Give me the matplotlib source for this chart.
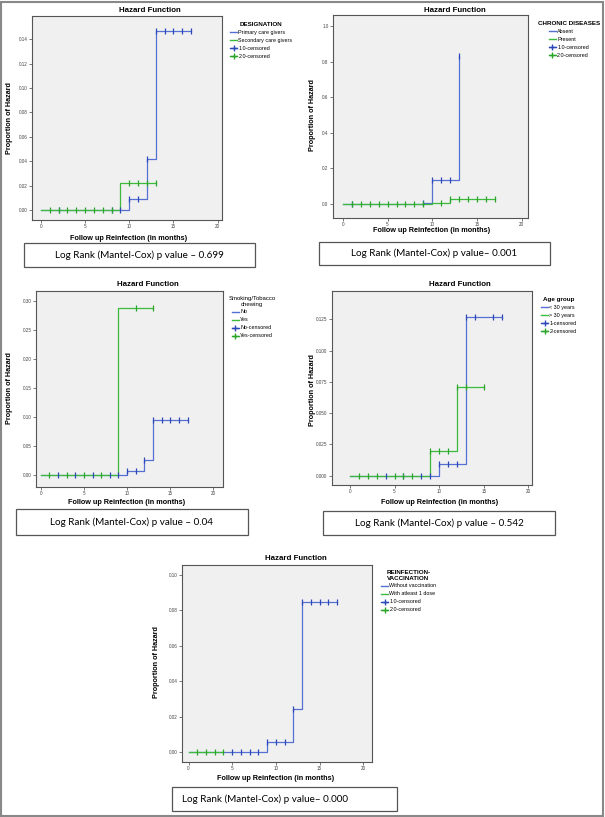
import numpy as np
import matplotlib
matplotlib.use('Agg')
import matplotlib.pyplot as plt
import matplotlib.patches as patches
from matplotlib.lines import Line2D

W, H = 605, 817

# ---- data (months, cumulative hazard) ----
x_ticks = [0, 5, 10, 15, 20]

# panel 1: designation
p1_blue_t = [0, 10, 12, 13, 17]
p1_blue_h = [0, 0.009, 0.042, 0.147, 0.147]
p1_blue_cens = [2, 8, 9, 10, 11, 12, 13, 14, 15, 16, 17]
p1_green_t = [0, 9, 13]
p1_green_h = [0, 0.022, 0.022]
p1_green_cens = [1, 2, 3, 4, 5, 6, 7, 8, 10, 11, 12, 13]
p1_yticks = [0.00, 0.02, 0.04, 0.06, 0.08, 0.10, 0.12, 0.14]
p1_ytick_labels = ['0.00', '0.02', '0.04', '0.06', '0.08', '0.10', '0.12', '0.14']
p1_legend = ['Primary care givers', 'Secondary care givers', '1.0-censored', '2.0-censored']

# panel 2: chronic diseases
p2_blue_t = [0, 9, 10, 13]
p2_blue_h = [0, 0.004, 0.133, 0.83]
p2_blue_cens = [1, 9, 10, 11, 12, 13]
p2_green_t = [0, 10, 12, 17]
p2_green_h = [0, 0.007, 0.027, 0.027]
p2_green_cens = [1, 2, 3, 4, 5, 6, 7, 8, 9, 11, 12, 13, 14, 15, 16, 17]
p2_yticks = [0.0, 0.2, 0.4, 0.6, 0.8, 1.0]
p2_ytick_labels = ['0.0', '0.2', '0.4', '0.6', '0.8', '1.0']
p2_legend = ['Absent', 'Present', '1.0-censored', '2.0-censored']

# panel 3: smoking
p3_blue_t = [0, 10, 12, 13, 17]
p3_blue_h = [0, 0.007, 0.027, 0.095, 0.095]
p3_blue_cens = [2, 4, 6, 8, 9, 10, 11, 12, 13, 14, 15, 16, 17]
p3_green_t = [0, 9, 13]
p3_green_h = [0, 0.288, 0.288]
p3_green_cens = [1, 3, 5, 7, 11, 13]
p3_yticks = [0.00, 0.05, 0.10, 0.15, 0.20, 0.25, 0.30]
p3_ytick_labels = ['0.00', '0.05', '0.10', '0.15', '0.20', '0.25', '0.30']
p3_legend = ['No', 'Yes', 'No-censored', 'Yes-censored']

# panel 4: age group
p4_blue_t = [0, 10, 13, 17]
p4_blue_h = [0, 0.009, 0.127, 0.127]
p4_blue_cens = [4, 6, 8, 9, 10, 11, 12, 13, 14, 16, 17]
p4_green_t = [0, 9, 12, 15]
p4_green_h = [0, 0.0195, 0.071, 0.071]
p4_green_cens = [1, 2, 3, 5, 6, 7, 9, 10, 11, 12, 13, 15]
p4_yticks = [0.000, 0.025, 0.050, 0.075, 0.100, 0.125]
p4_ytick_labels = ['0.000', '0.025', '0.050', '0.075', '0.100', '0.125']
p4_legend = ['< 30 years', '> 30 years', '1-censored', '2-censored']

# panel 5: vaccination
p5_blue_t = [0, 9, 12, 13, 17]
p5_blue_h = [0, 0.0057, 0.0245, 0.085, 0.085]
p5_blue_cens = [5, 6, 7, 8, 9, 10, 11, 12, 13, 14, 15, 16, 17]
p5_green_t = [0, 4]
p5_green_h = [0, 0]
p5_green_cens = [1, 2, 3, 4]
p5_yticks = [0.00, 0.02, 0.04, 0.06, 0.08, 0.10]
p5_ytick_labels = ['0.00', '0.02', '0.04', '0.06', '0.08', '0.10']
p5_legend = ['Without vaccination', 'With atleast 1 dose', '1.0-censored', '2.0-censored']

BLUE = '#5570d2'
BLUE_M = '#2d48b8'
GREEN = '#3cba3c'
GREEN_M = '#2aa52a'

fig = plt.figure(figsize=(W / 100, H / 100), dpi=100)
plt.rcParams['font.family'] = ['Liberation Sans', 'DejaVu Sans']


def px_axes(x0, y0, x1, y1):
    return fig.add_axes([x0 / W, 1 - y1 / H, (x1 - x0) / W, (y1 - y0) / H])


def step_at(t, h, c):
    idx = np.searchsorted(t, c, side='right') - 1
    return np.asarray(h)[idx]


def panel(box, xlim, ylim, yticks, ylabels,
          bt, bh, bc, gt, gh, gc,
          title_xy, xlab_xy, ylab_xy,
          leg_xy, leg_title, leg_labels, leg_bold,
          lr_box, lr_text, lr_left=False, title_center=False):
    ax = px_axes(*box)
    ax.set_facecolor('#f0f0f0')
    ax.step(bt, bh, where='post', color=BLUE, lw=0.9, zorder=2)
    ax.plot(bc, step_at(bt, bh, bc), ls='none', marker='|', ms=4, mew=0.9,
            color=BLUE_M, zorder=3)
    ax.step(gt, gh, where='post', color=GREEN, lw=0.9, zorder=2)
    ax.plot(gc, step_at(gt, gh, gc), ls='none', marker='|', ms=4, mew=0.9,
            color=GREEN_M, zorder=3)
    ax.set_xlim(*xlim)
    ax.set_ylim(*ylim)
    ax.set_xticks(x_ticks)
    ax.set_yticks(yticks)
    ax.set_yticklabels(ylabels)
    ax.tick_params(labelsize=3.3, length=2, width=0.5, colors='#444',
                   pad=1.2)
    for s in ax.spines.values():
        s.set_color('#555')
        s.set_linewidth(0.8)

    fig.text(title_xy[0] / W, 1 - title_xy[1] / H, 'Hazard Function',
             ha='center', va='center', fontsize=5.7, fontweight='bold')
    fig.text(xlab_xy[0] / W, 1 - xlab_xy[1] / H,
             'Follow up Reinfection (in months)',
             ha='center', va='center', fontsize=5.2, fontweight='bold')
    fig.text(ylab_xy[0] / W, 1 - ylab_xy[1] / H, 'Proportion of Hazard',
             ha='center', va='center', rotation=90, fontsize=5.2,
             fontweight='bold')

    handles = [Line2D([], [], color=BLUE, lw=1.0),
               Line2D([], [], color=GREEN, lw=1.0),
               Line2D([], [], color=BLUE_M, lw=1.0, marker='+', ms=4),
               Line2D([], [], color=GREEN_M, lw=1.0, marker='+', ms=4)]
    leg = ax.legend(handles, leg_labels, loc='upper left',
                    bbox_to_anchor=(leg_xy[0] / W, 1 - leg_xy[1] / H),
                    bbox_transform=fig.transFigure, frameon=False,
                    fontsize=3.9, title=leg_title, handlelength=1.4,
                    handletextpad=0.2, labelspacing=0.55, borderpad=0,
                    title_fontproperties={'size': 4.5 if leg_bold else 4.3,
                                          'weight': 'bold' if leg_bold else 'normal'})
    if title_center:
        leg.get_title().set_multialignment('center')

    x0, y0, x1, y1 = lr_box
    fig.patches.append(patches.Rectangle(
        (x0 / W, 1 - y1 / H), (x1 - x0) / W, (y1 - y0) / H,
        transform=fig.transFigure, fill=False, edgecolor='#555', lw=0.9))
    if lr_left:
        fig.text((x0 + 10) / W, 1 - (y0 + y1) / 2 / H, lr_text,
                 ha='left', va='center', fontsize=7.1, family='Lato')
    else:
        fig.text((x0 + x1) / 2 / W, 1 - (y0 + y1) / 2 / H, lr_text,
                 ha='center', va='center', fontsize=7.1, family='Lato')
    return ax


panel((32, 16, 222, 220), (-1.0, 20.5), (-0.0082, 0.159),
      p1_yticks, p1_ytick_labels,
      p1_blue_t, p1_blue_h, p1_blue_cens, p1_green_t, p1_green_h, p1_green_cens,
      (150, 10), (129, 239), (10, 118),
      (227, 19), 'DESIGNATION', p1_legend, True,
      (24, 243, 255, 267), 'Log Rank (Mantel-Cox) p value \u2013 0.699')

panel((333, 15, 528, 218), (-1.1, 20.7), (-0.079, 1.062),
      p2_yticks, p2_ytick_labels,
      p2_blue_t, p2_blue_h, p2_blue_cens, p2_green_t, p2_green_h, p2_green_cens,
      (455, 10), (432, 231), (313, 115),
      (535, 18), 'CHRONIC DISEASES', p2_legend, True,
      (319, 242, 550, 265), 'Log Rank (Mantel-Cox) p value\u2013 0.001')

panel((36, 291, 223, 487), (-0.55, 21.1), (-0.020, 0.317),
      p3_yticks, p3_ytick_labels,
      p3_blue_t, p3_blue_h, p3_blue_cens, p3_green_t, p3_green_h, p3_green_cens,
      (148, 284), (127, 503), (10, 388),
      (226, 293), 'Smoking/Tobacco\nchewing', p3_legend, False,
      (16, 509, 248, 535), 'Log Rank (Mantel-Cox) p value \u2013 0.04',
      title_center=True)

panel((332, 291, 532, 485), (-2.0, 20.4), (-0.0074, 0.1476),
      p4_yticks, p4_ytick_labels,
      p4_blue_t, p4_blue_h, p4_blue_cens, p4_green_t, p4_green_h, p4_green_cens,
      (460, 284), (440, 503), (313, 390),
      (538, 294), 'Age group', p4_legend, True,
      (323, 511, 555, 535), 'Log Rank (Mantel-Cox) p value \u2013 0.542')

panel((182, 565, 372, 762), (-0.75, 21.0), (-0.0057, 0.1057),
      p5_yticks, p5_ytick_labels,
      p5_blue_t, p5_blue_h, p5_blue_cens, p5_green_t, p5_green_h, p5_green_cens,
      (296, 559), (276, 779), (157, 662),
      (378, 567), 'REINFECTION-\nVACCINATION', p5_legend, True,
      (172, 787, 397, 811), 'Log Rank (Mantel-Cox) p value\u2013 0.000',
      lr_left=True)

# outer frame of the figure
fig.patches.append(patches.Rectangle(
    (1 / W, 1 / H), (W - 3) / W, (H - 3) / H, transform=fig.transFigure,
    fill=False, edgecolor='#888', lw=1.5))

fig.savefig('out.png', dpi=100)
